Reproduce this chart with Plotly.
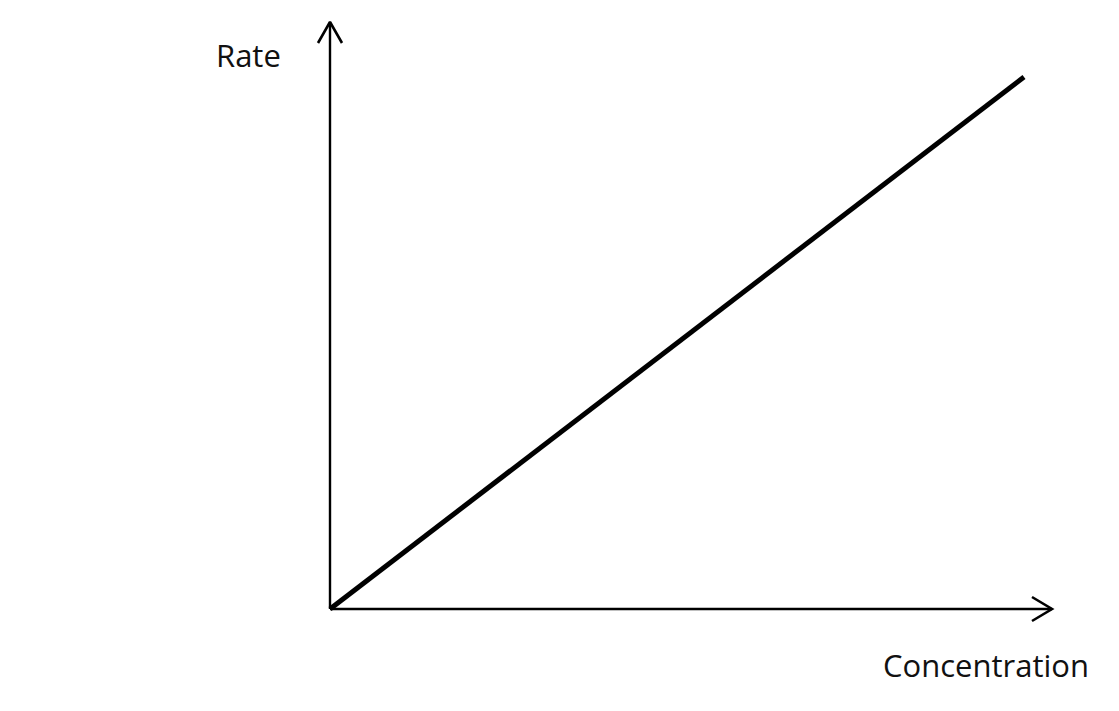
import plotly.graph_objects as go

# Data
concentration = [0.0, 1.0]
rate = [0.0, 1.0]
x_label = "Concentration"
y_label = "Rate"

OFF = 8  # default page body margin
W, H = 1119 - OFF, 711 - OFF
# pixel mapping (page coords): origin at (330, 609), (1,1) at (1024, 77)
px_x0, px_y0 = 330 - OFF, 609 - OFF
sx = 1024 - 330
sy = 609 - 77
xr = [-px_x0 / sx, (W - px_x0) / sx]
yr = [(px_y0 - H) / sy, px_y0 / sy]

def dx(p):
    return p / sx

def dy(p):
    return p / sy

y_top = dy(609 - 22)
x_end = dx(1052 - 330)

fig = go.Figure()
fig.add_trace(go.Scatter(x=concentration, y=rate, mode="lines",
                         line=dict(color="black", width=5), hoverinfo="skip"))
fig.add_trace(go.Scatter(x=[0, 0], y=[0, y_top], mode="lines",
                         line=dict(color="black", width=2.4), hoverinfo="skip"))
fig.add_trace(go.Scatter(x=[-dx(12), 0, dx(12)], y=[y_top - dy(21), y_top, y_top - dy(21)],
                         mode="lines", line=dict(color="black", width=2.6), hoverinfo="skip"))
fig.add_trace(go.Scatter(x=[0, x_end], y=[0, 0], mode="lines",
                         line=dict(color="black", width=2.4), hoverinfo="skip"))
fig.add_trace(go.Scatter(x=[x_end - dx(20), x_end, x_end - dx(20)], y=[dy(12), 0, -dy(12)],
                         mode="lines", line=dict(color="black", width=2.6), hoverinfo="skip"))

fig.add_annotation(x=dx(248.5 - 330), y=dy(609 - 55), text=y_label, showarrow=False,
                   font=dict(family="Open Sans", size=31, color="#111111"),
                   xanchor="center", yanchor="middle")
fig.add_annotation(x=dx(986 - 330), y=dy(609 - 665), text=x_label, showarrow=False,
                   font=dict(family="Open Sans", size=31, color="#111111"),
                   xanchor="center", yanchor="middle")

fig.update_layout(
    width=W, height=H, margin=dict(l=0, r=0, t=0, b=0),
    paper_bgcolor="white", plot_bgcolor="white", showlegend=False,
    xaxis=dict(range=xr, visible=False, fixedrange=True),
    yaxis=dict(range=yr, visible=False, fixedrange=True),
)
fig.write_html("out.html")
